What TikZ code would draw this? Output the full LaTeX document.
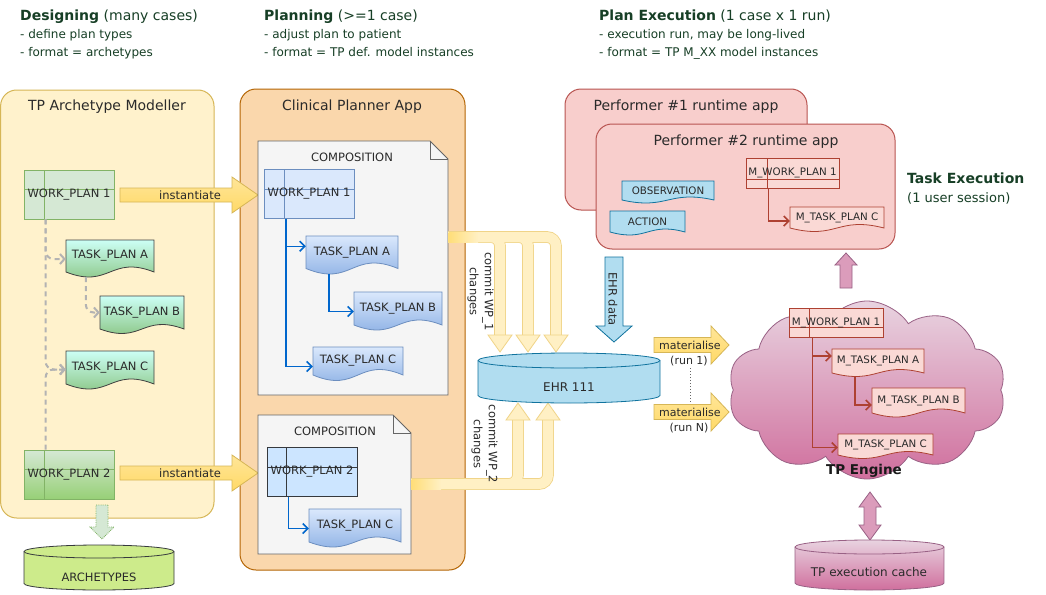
\documentclass[tikz,border=0pt]{standalone}
\usepackage{fontspec}
\setmainfont{DejaVu Sans}
\usetikzlibrary{shapes.symbols,arrows.meta,calc}

\definecolor{hdr}{HTML}{173F26}
\definecolor{txt}{HTML}{2A2A2A}
\definecolor{yelF}{HTML}{FFF2CC}
\definecolor{yelB}{HTML}{D6B656}
\definecolor{yelD}{HTML}{FFD966}
\definecolor{orF}{HTML}{FAD7AC}
\definecolor{orB}{HTML}{B46504}
\definecolor{grF}{HTML}{D5E8D4}
\definecolor{grB}{HTML}{82B366}
\definecolor{grD}{HTML}{97D077}
\definecolor{cyT}{HTML}{CCFFF5}
\definecolor{grT}{HTML}{7FBB70}
\definecolor{blF}{HTML}{DAE8FC}
\definecolor{blB}{HTML}{6C8EBF}
\definecolor{blD}{HTML}{7EA6E0}
\definecolor{blL}{HTML}{CCE5FF}
\definecolor{dkB}{HTML}{36393D}
\definecolor{arrB}{HTML}{0066CC}
\definecolor{noteF}{HTML}{F5F5F5}
\definecolor{noteB}{HTML}{666666}
\definecolor{ehrF}{HTML}{B1DDF0}
\definecolor{ehrB}{HTML}{10739E}
\definecolor{rdF}{HTML}{F8CECC}
\definecolor{rdB}{HTML}{B85450}
\definecolor{mF}{HTML}{FAD9D5}
\definecolor{mB}{HTML}{AE4132}
\definecolor{pkT}{HTML}{E8D3E0}
\definecolor{pkD}{HTML}{D06F9D}
\definecolor{pkB}{HTML}{996185}
\definecolor{arcF}{HTML}{CDEB8B}
\definecolor{flowF}{HTML}{FFF0C4}
\definecolor{flowB}{HTML}{F0D488}
\definecolor{dgray}{HTML}{B3B3B3}

\tikzset{
  hdrT/.style={anchor=base west, text=hdr, inner sep=0, font=\fontsize{14}{17}\selectfont},
  hdrS/.style={anchor=base west, text=hdr, inner sep=0, font=\fontsize{12}{15}\selectfont},
  panel/.style={rounded corners=16, line width=1pt},
  ptitle/.style={text=txt, inner sep=0, font=\fontsize{14}{17}\selectfont},
  f10/.style={font=\fontsize{10.3}{12}\selectfont},
  f11/.style={font=\fontsize{11}{13}\selectfont},
  f115/.style={font=\fontsize{11.5}{14}\selectfont},
  f12/.style={font=\fontsize{12}{14}\selectfont},
  docT/.style={inner sep=0, text=txt, font=\fontsize{11.5}{14}\selectfont},
  wp/.style n args={3}{rectangle, draw=#1, line width=0.8pt, inner sep=0, text=txt,
     font=\fontsize{11.5}{14}\selectfont, minimum width=90, minimum height=49,
     path picture={\draw[#1,line width=0.8pt] ([xshift=#2]path picture bounding box.north west) -- ([xshift=#2]path picture bounding box.south west);
                   \draw[#1,line width=0.8pt] ([yshift=-#3]path picture bounding box.north west) -- ([yshift=-#3]path picture bounding box.north east);}},
  tpL/.style={draw=black!75, line width=0.8pt, top color=cyT, bottom color=grT},
  tpM/.style={draw=blB, line width=0.8pt, top color=blF, bottom color=blD},
  mtp/.style={draw=mB, line width=0.8pt, fill=mF},
  obsS/.style={draw=ehrB, line width=0.8pt, fill=ehrF},
  noteS/.style={draw=noteB, fill=noteF, line width=0.8pt},
  compT/.style={text=txt, inner sep=0, font=\fontsize{11.5}{14}\selectfont},
  gdash/.style={draw=dgray, line width=2pt, dash pattern=on 5pt off 4pt, rounded corners=8, -{Straight Barb[length=4.5pt,width=10pt]}},
  barr/.style={draw=arrB, line width=1.5pt, -{Straight Barb[length=5pt,width=10pt]}},
  rarr/.style={draw=mB, line width=1.5pt, -{Straight Barb[length=5pt,width=10pt]}},
  yarr/.style={draw=yelB, line width=0.8pt, top color=yelF!50!yelD, bottom color=yelD},
  ehrArr/.style={draw=ehrB, fill=ehrF, line width=0.8pt},
  gArr/.style={draw=grB, fill=grF, line width=0.8pt, densely dotted},
  pkArr/.style={draw=pkB, fill=pkD!55!pkT, line width=0.8pt},
  flowO/.style={draw=flowB, line width=11.6pt, rounded corners=9},
  flowI/.style={draw=flowF, line width=10pt, rounded corners=9},
  flowH/.style={fill=flowF, draw=flowB, line width=0.8pt},
  cloudS/.style={cloud, cloud puffs=10, cloud puff arc=115, aspect=1.45, draw=pkB, line width=0.8pt,
     top color=pkT, bottom color=pkD, minimum width=278, minimum height=178, inner sep=0},
}

% #1 style, #2 node options, #3 name, #4 x1, #5 y1, #6 x2, #7 y base, #8 amplitude, #9 text
\newcommand\docshape[9]{%
  \path[#1] (#4,#5) -- (#6,#5) -- (#6,#7) .. controls ({(#4+#6)/2},{#7-3.46*#8}) and ({(#4+#6)/2},{#7+3.46*#8}) .. (#4,#7) -- cycle;
  \node[docT,#2,minimum width={#6-#4},minimum height={#7-#5}] (#3) at ({(#4+#6)/2},{(#5+#7)/2}) {#9};}

% #1 style, #2 x, #3 y, #4 angle, #5 length, #6 body half, #7 head half, #8 head length
\newcommand\blockarr[8]{%
  \begin{scope}[shift={(#2,#3)},rotate=#4]
    \path[#1] (0,-#6) -- (#5-#8,-#6) -- (#5-#8,-#7) -- (#5,0) -- (#5-#8,#7) -- (#5-#8,#6) -- (0,#6) -- cycle;
  \end{scope}}

\begin{document}
\begin{tikzpicture}[x=1pt,y=-1pt]
\useasboundingbox (0,0) rectangle (1046,594);
\fill[white] (0,0) rectangle (1046,594);

% ---------------- headers
\node[hdrT] (h1) at (20,20.5) {\textbf{Designing} (many cases)};
\node[hdrS] (h1a) at (20,38.5) {- define plan types};
\node[hdrS] (h1b) at (20,56.5) {- format = archetypes};
\node[hdrT] (h2) at (264,20.5) {\textbf{Planning} (>=1 case)};
\node[hdrS] (h2a) at (264,38.5) {- adjust plan to patient};
\node[hdrS] (h2b) at (264,56.5) {- format = TP def. model instances};
\node[hdrT] (h3) at (599,20.5) {\textbf{Plan Execution} (1 case x 1 run)};
\node[hdrS] (h3a) at (599,38.5) {- execution run, may be long-lived};
\node[hdrS] (h3b) at (599,56.5) {- format = TP M\_XX model instances};
\node[hdrT] (h4) at (907,183) {\textbf{Task Execution}};
\node[hdrT, font=\fontsize{13}{15}\selectfont] (h4a) at (907,202) {(1 user session)};

% ---------------- panels
\draw[panel, draw=yelB, fill=yelF] (0.6,90) rectangle (214,518);
\node[ptitle] (tmod) at (107,107) {TP Archetype Modeller};
\draw[panel, draw=orB, fill=orF] (240,89) rectangle (465,570);
\node[ptitle] (tcpa) at (352,107) {Clinical Planner App};
\draw[panel, draw=rdB, fill=rdF] (565,89) rectangle (807,210);
\node[ptitle] (tp1) at (686,107) {Performer \#1 runtime app};
\draw[panel, draw=rdB, fill=rdF] (596,124) rectangle (895,249);
\node[ptitle] (tp2) at (746,142) {Performer \#2 runtime app};

% ---------------- left: archetype modeller
\node[wp={grB}{20pt}{19.5pt}, fill=grF] (lwp1) at (69,194.5) {WORK\_PLAN 1};
\node[wp={grB}{20pt}{19.5pt}, top color=grF, bottom color=grD] (lwp2) at (69,474.5) {WORK\_PLAN 2};
\docshape{tpL}{}{ltpa}{66}{240}{154}{272}{5}{TASK\_PLAN A}
\docshape{tpL}{}{ltpb}{100}{296}{184}{329}{4.5}{TASK\_PLAN B}
\docshape{tpL}{}{ltpc}{66}{351}{154}{384}{5}{TASK\_PLAN C}
\draw[gdash] ([xshift=22pt]lwp1.south west) |- ([yshift=-3pt]ltpa.west);
\draw[gdash] ([xshift=22pt]lwp1.south west) |- ([yshift=-2pt]ltpc.west);
\draw[gdash] ([xshift=20pt,yshift=-5pt]ltpa.south west) |- (ltpb.west);
\draw[gdash] ([xshift=22pt]lwp2.north west) |- ([yshift=-2pt]ltpc.west);

% archetypes repository
\blockarr{gArr}{102}{505}{-90}{34}{6}{12}{12}
\path[draw=dkB, line width=0.8pt, fill=arcF] (24,551.5) -- (24,583.5) arc[start angle=180,end angle=360,x radius=75pt,y radius=6.5pt] -- (174,551.5) arc[start angle=0,end angle=180,x radius=75pt,y radius=6.5pt] -- cycle;
\draw[dkB, line width=0.8pt] (24,551.5) arc[start angle=180,end angle=360,x radius=75pt,y radius=6.5pt];
\node[f115, text=txt] (arch) at (99,577) {ARCHETYPES};

% ---------------- instantiate arrows
\blockarr{yarr}{120}{195}{0}{138}{7}{18}{26}
\node[f115, text=txt] (inst1) at (190,195) {instantiate};
\blockarr{yarr}{120}{473}{0}{138}{7}{18}{26}
\node[f115, text=txt] (inst2) at (190,473) {instantiate};

% ---------------- compositions
\draw[noteS] (258,141) -- (430,141) -- (448,159) -- (448,395) -- (258,395) -- cycle;
\draw[noteB, line width=0.8pt] (430,141) -- (430,159) -- (448,159);
\node[compT] (comp1) at (352,157) {COMPOSITION};
\draw[noteS] (258,415) -- (393,415) -- (411,433) -- (411,554) -- (258,554) -- cycle;
\draw[noteB, line width=0.8pt] (393,415) -- (393,433) -- (411,433);
\node[compT] (comp2) at (335,431) {COMPOSITION};

\node[wp={blB}{20pt}{19.5pt}, fill=blF] (mwp1) at (309,194) {WORK\_PLAN 1};
\node[wp={dkB}{19pt}{20pt}, fill=blL] (mwp2) at (312,472) {WORK\_PLAN 2};
\docshape{tpM}{}{mtpa}{306}{236}{398}{268.5}{5.5}{TASK\_PLAN A}
\docshape{tpM}{}{mtpb}{354}{292}{442}{325}{5}{TASK\_PLAN B}
\docshape{tpM}{}{mtpc}{313}{347}{403}{375}{5.5}{TASK\_PLAN C}
\docshape{tpM}{}{m2tpc}{309}{509}{401}{542}{5}{TASK\_PLAN C}
\draw[barr] ([xshift=22.5pt]mwp1.south west) |- ([yshift=6pt]mtpa.west);
\draw[barr] ([xshift=22.5pt]mwp1.south west) |- ([yshift=-5.5pt]mtpc.west);
\draw[barr] ([xshift=23pt,yshift=-5pt]mtpa.south west) |- ([yshift=-3pt]mtpb.west);
\draw[barr] ([xshift=22pt]mwp2.south west) |- ([yshift=-3pt]m2tpc.west);

% ---------------- commit flows
\coordinate (c1o) at (448,237);
\coordinate (c2o) at (411,484);
\foreach \xx in {500,528,556} \draw[flowO] (c1o) -- (\xx,237) -- (\xx,336);
\foreach \xx in {518,548} \draw[flowO] (c2o) -- (\xx,484) -- (\xx,419);
\foreach \xx in {500,528,556} \draw[flowI] (c1o) -- (\xx,237) -- (\xx,336);
\foreach \xx in {518,548} \draw[flowI] (c2o) -- (\xx,484) -- (\xx,419);
\fill[left color=yelD!80!flowF, right color=flowF] (448.5,232) rectangle (478,242);
\fill[left color=yelD!80!flowF, right color=flowF] (411.5,479) rectangle (441,489);
\foreach \xx in {500,528,556} \path[flowH] (\xx-12,335) -- (\xx+12,335) -- (\xx,352) -- cycle;
\foreach \xx in {518,548} \path[flowH] (\xx-12,420) -- (\xx+12,420) -- (\xx,403) -- cycle;
\node[rotate=-90, align=center, text=txt, font=\fontsize{11.5}{15}\selectfont] (cm1) at (480.5,291.5) {commit WP\_1\\changes};
\node[rotate=-90, align=center, text=txt, font=\fontsize{11.5}{15}\selectfont] (cm2) at (484.5,444) {commit WP\_2\\changes};

% ---------------- EHR
\path[draw=ehrB, line width=0.8pt, fill=ehrF] (478,360.5) -- (478,395.5) arc[start angle=180,end angle=360,x radius=91pt,y radius=7.5pt] -- (660,360.5) arc[start angle=0,end angle=180,x radius=91pt,y radius=7.5pt] -- cycle;
\draw[ehrB, line width=0.8pt] (478,360.5) arc[start angle=180,end angle=360,x radius=91pt,y radius=7.5pt];
\node[f12, text=txt] (ehr) at (569,387) {EHR 111};
\blockarr{ehrArr}{614}{257}{-90}{85}{9}{18}{16}
\node[f115, text=txt, rotate=-90] (ehrd) at (613,299) {EHR data};

% ---------------- materialise
\blockarr{yarr}{654}{345}{0}{75}{7.5}{19}{18}
\node[f11, text=txt, anchor=west, inner sep=0] (mat1) at (659,345) {materialise};
\node[f11, text=txt] (run1) at (689,361) {(run 1)};
\blockarr{yarr}{654}{412}{0}{75}{7.5}{19}{18}
\node[f11, text=txt, anchor=west, inner sep=0] (mat2) at (659,412) {materialise};
\node[f11, text=txt] (runN) at (689,428) {(run N)};
\coordinate (dotA) at (690,368);
\coordinate (dotB) at (690,402);
\draw[black!60, dotted, line width=1pt] (dotA) -- (dotB);

% ---------------- performer 2 contents
\docshape{obsS}{f10}{obs}{622}{181}{714}{200}{3}{OBSERVATION}
\docshape{obsS}{f10}{act}{610}{211}{685}{232}{3}{ACTION}
\node[wp={mB}{21pt}{21pt}, fill=mF, f10, minimum width=93, minimum height=30] (pmwp) at (792.5,173) {M\_WORK\_PLAN 1};
\docshape{mtp}{f10}{pmtpc}{790}{207}{884}{228}{3.5}{M\_TASK\_PLAN C}
\draw[rarr] ([xshift=23pt]pmwp.south west) |- ([yshift=-3.5pt]pmtpc.west);

% ---------------- TP engine
\blockarr{pkArr}{846}{288}{90}{35}{6}{11}{12}
\node[cloudS] (engine) at (867,390) {};
\node[text=black!90, font=\bfseries\fontsize{13.5}{15}\selectfont] (engT) at (864,471) {TP Engine};
\node[wp={mB}{20pt}{19.5pt}, fill=mF, f10, minimum width=94, minimum height=29] (cmwp) at (836,322.5) {M\_WORK\_PLAN 1};
\docshape{mtp}{f10}{cmtpa}{832}{349}{924}{373}{3.5}{M\_TASK\_PLAN A}
\docshape{mtp}{f10}{cmtpb}{872}{388}{965}{413}{4}{M\_TASK\_PLAN B}
\docshape{mtp}{f10}{cmtpc}{838}{434}{933}{455}{3.5}{M\_TASK\_PLAN C}
\draw[rarr] ([xshift=24pt]cmwp.south west) |- ([yshift=5pt]cmtpa.west);
\draw[rarr] ([xshift=24pt]cmwp.south west) |- ([yshift=-3pt]cmtpc.west);
\draw[rarr] ([xshift=23pt,yshift=-3.5pt]cmtpa.south west) |- ([yshift=-4.5pt]cmtpb.west);

% ---------------- execution cache
\path[pkArr] (870,492) -- (881,507) -- (876,507) -- (876,525) -- (881,525) -- (870,540) -- (859,525) -- (864,525) -- (864,507) -- (859,507) -- cycle;
\path[draw=pkB, line width=0.8pt, top color=pkT, bottom color=pkD] (795,547) -- (795,583) arc[start angle=180,end angle=360,x radius=74.5pt,y radius=7pt] -- (944,547) arc[start angle=0,end angle=180,x radius=74.5pt,y radius=7pt] -- cycle;
\draw[pkB, line width=0.8pt] (795,547) arc[start angle=180,end angle=360,x radius=74.5pt,y radius=7pt];
\node[f12, text=txt] (cache) at (869,572) {TP execution cache};
\end{tikzpicture}
\end{document}
